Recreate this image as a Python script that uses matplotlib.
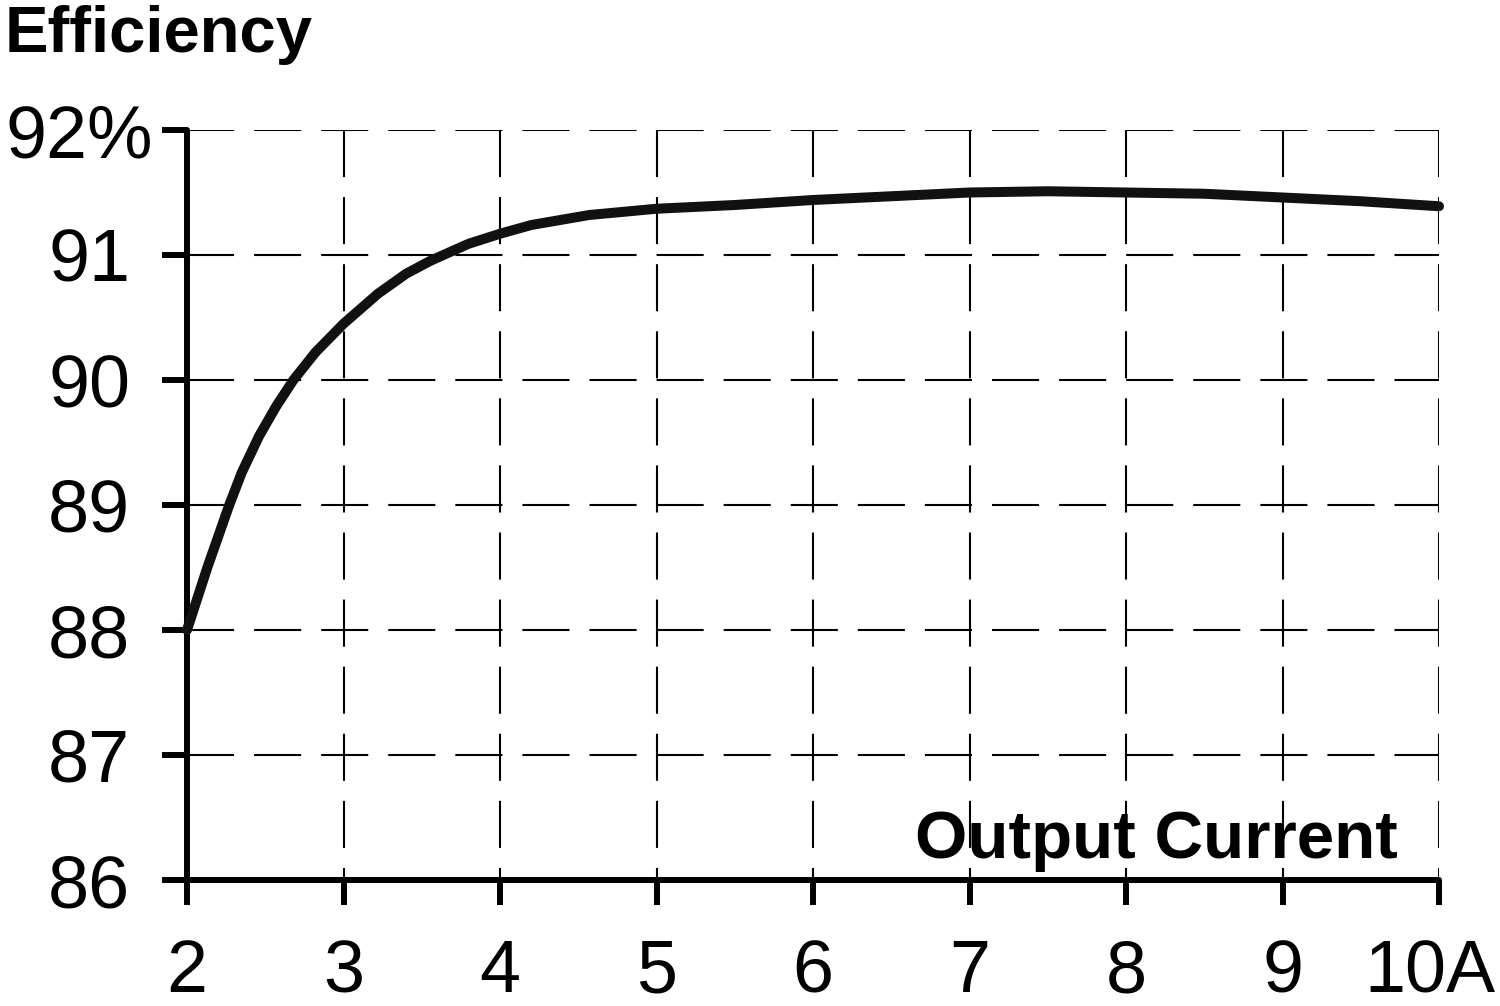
import matplotlib
matplotlib.use("Agg")
import matplotlib.pyplot as plt
import matplotlib.transforms as mtransforms

plt.rcParams['font.family'] = ['Liberation Sans', 'DejaVu Sans']

# Data
current = [2.0, 2.13, 2.27, 2.35, 2.46, 2.57, 2.68, 2.82, 3.0, 3.22, 3.4,
           3.55, 3.62, 3.8, 4.0, 4.2, 4.57, 5.0, 5.5, 6.0, 6.5, 7.0, 7.5,
           8.0, 8.5, 9.0, 9.5, 10.0]
efficiency = [88.0, 88.5, 89.0, 89.26, 89.55, 89.79, 90.0, 90.22, 90.45,
              90.69, 90.85, 90.95, 90.99, 91.09, 91.17, 91.24, 91.32, 91.37,
              91.40, 91.44, 91.47, 91.50, 91.51, 91.50, 91.49, 91.46, 91.43,
              91.39]
x_ticks = [2, 3, 4, 5, 6, 7, 8, 9, 10]
x_tick_labels = ['2', '3', '4', '5', '6', '7', '8', '9', '10A']
y_ticks = [86, 87, 88, 89, 90, 91, 92]
y_tick_labels = ['86', '87', '88', '89', '90', '91', '92%']
title_text = 'Efficiency'
xlabel_text = 'Output Current'

fig = plt.figure(figsize=(15, 10.06), dpi=100)
ax = fig.add_axes([187 / 1500, 126 / 1006, 1252 / 1500, 750 / 1006])
ax.set_xlim(x_ticks[0], x_ticks[-1])
ax.set_ylim(y_ticks[0], y_ticks[-1])

for s in ['top', 'right']:
    ax.spines[s].set_visible(False)
for s in ['left', 'bottom']:
    ax.spines[s].set_linewidth(4.3)
    ax.spines[s].set_color('black')
    ax.spines[s].set_capstyle('round')

# dashed grid
dash = (0, (22.6, 9.6))
ax.hlines(y_ticks[1:], x_ticks[0], x_ticks[-1], colors='black', linewidth=1.5,
          linestyles=[dash], zorder=1)
ax.vlines(x_ticks[1:], y_ticks[-1], y_ticks[0], colors='black', linewidth=1.5,
          linestyles=[dash], zorder=1)

ax.plot(current, efficiency, color='#111111', linewidth=7.2,
        solid_capstyle='round', solid_joinstyle='round', clip_on=False, zorder=3)

ax.set_xticks(x_ticks)
ax.set_xticklabels(x_tick_labels)
ax.set_yticks(y_ticks)
ax.set_yticklabels(y_tick_labels)
ax.tick_params(axis='both', direction='out', length=18, width=4.3,
               labelsize=53, colors='black')
ax.tick_params(axis='y', pad=23)
ax.tick_params(axis='x', pad=24)
for t in ax.xaxis.get_major_ticks():
    t.tick1line.set_solid_capstyle('round')
for t in ax.yaxis.get_major_ticks():
    t.tick1line.set_solid_capstyle('round')

# shift the "92%" label so its number sits left of the percent sign like the original
lbl = ax.get_yticklabels()[-1]
lbl.set_transform(lbl.get_transform() + mtransforms.ScaledTranslation(23 / 100, 0, fig.dpi_scale_trans))
# keep "10A" inside the figure edge
lbl10 = ax.get_xticklabels()[-1]
lbl10.set_transform(lbl10.get_transform() + mtransforms.ScaledTranslation(-9 / 100, 0, fig.dpi_scale_trans))

fig.text(5 / 1500, 1 - 52 / 1006, title_text, ha='left', va='baseline',
         fontsize=47, fontweight='bold')
fig.text(1398 / 1500, 1 - 858 / 1006, xlabel_text, ha='right', va='baseline',
         fontsize=48.5, fontweight='bold')

fig.savefig('out.png', dpi=100, facecolor='white')
